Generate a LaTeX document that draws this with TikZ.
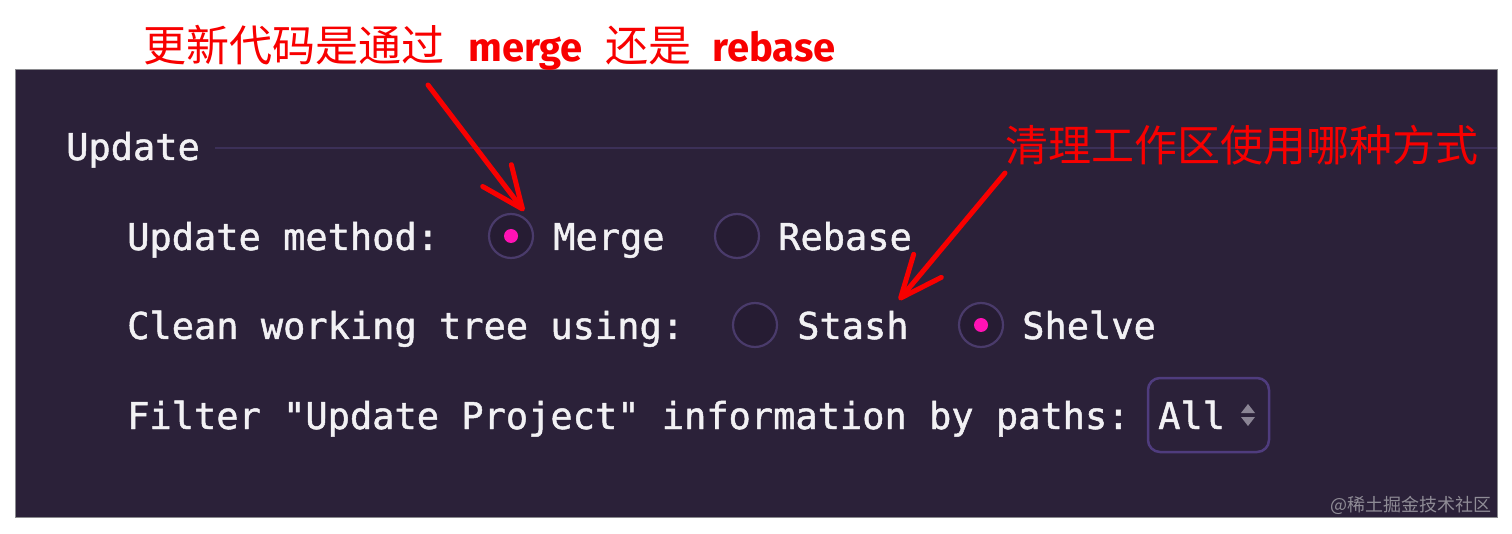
\documentclass[tikz,border=0pt]{standalone}
\usepackage{fontspec}
\newfontfamily\uifont{DejaVu Sans Mono}[FakeBold=1.3]
\newfontfamily\cjk{Noto Sans CJK SC}
\newfontfamily\hand{Fira Sans}
\usetikzlibrary{arrows.meta}

\definecolor{panelbg}{HTML}{2B2139}
\definecolor{paneledge}{HTML}{8A8A8E}
\definecolor{uitext}{HTML}{F2F1F4}
\definecolor{ruleline}{HTML}{3C3058}
\definecolor{radioedge}{HTML}{4A3B6B}
\definecolor{radiofill}{HTML}{261C33}
\definecolor{dotpink}{HTML}{FF12B4}
\definecolor{boxedge}{HTML}{4F3C7E}
\definecolor{spingray}{HTML}{8B8595}
\definecolor{wmgray}{HTML}{8F8C96}
\definecolor{annred}{HTML}{F80000}

\begin{document}
\begin{tikzpicture}[x=1pt,y=-1pt,
    ui/.style={anchor=base west, inner sep=0pt, text=uitext, font=\uifont\fontsize{37}{40}\selectfont},
    radio/.style={circle, draw=radioedge, fill=radiofill, line width=2.2pt, minimum size=44pt, inner sep=0pt},
    dot/.style={circle, fill=dotpink, minimum size=14pt, inner sep=0pt},
    note/.style={anchor=base west, inner sep=0pt, text=annred, font=\cjk\fontsize{43}{48}\selectfont},
    word/.style={anchor=base west, inner sep=0pt, text=annred, font=\hand\bfseries\fontsize{40}{44}\selectfont},
    pen/.style={draw=annred, line width=5pt, line cap=round, -{Straight Barb[length=42pt, width=36pt, round]}}]
    % page and panel
    \fill[white] (0,0) rectangle (1512,534);
    \draw[draw=paneledge, fill=panelbg, line width=1pt] (15,70) rectangle (1497,517);

    % section heading
    \node[ui] (hd) at (66,160) {Update};
    \draw[ruleline, line width=2pt] (215,148) -- (1497,148);

    % update method
    \node[ui] (um) at (127,250) {Update method:};
    \node[radio] (r1) at (511,236) {};
    \node[dot] (d1) at (r1.center) {};
    \node[ui] (merge) at (553,250) {Merge};
    \node[radio] (r2) at (737,236) {};
    \node[ui] (rebase) at (778,250) {Rebase};

    % clean working tree
    \node[ui] (cw) at (127,339) {Clean working tree using:};
    \node[radio] (r3) at (755,325) {};
    \node[ui] (stash) at (797,339) {Stash};
    \node[radio] (r4) at (981,325) {};
    \node[dot] (d4) at (r4.center) {};
    \node[ui] (shelve) at (1022,339) {Shelve};

    % filter
    \node[ui] (flt) at (127,429) {Filter "Update Project" information by paths:};
    \node[draw=boxedge, rounded corners=12pt, line width=2.5pt, minimum width=121pt, minimum height=74pt] (box) at (1208.5,415) {};
    \node[ui] (all) at (1158,429) {All};
    \fill[spingray] (1248,404) -- (1255,413) -- (1241,413) -- cycle;
    \fill[spingray] (1241,417) -- (1255,417) -- (1248,426) -- cycle;

    % watermark
    \node[anchor=base east, inner sep=0pt, text=wmgray, font=\cjk\fontsize{18}{20}\selectfont] (wm) at (1492,511) {@稀土掘金技术社区};

    % annotations
    \node[note] (n1) at (143,62) {更新代码是通过};
    \node[word] (w1) at (468,62) {merge};
    \node[note] (n2) at (605,62) {还是};
    \node[word] (w2) at (712,62) {rebase};
    \node[note] (n3) at (1005,162) {清理工作区使用哪种方式};

    \coordinate (a1s) at (428,85);
    \coordinate (a1e) at (524,211);
    \coordinate (a2s) at (1005,173);
    \coordinate (a2e) at (899,300);
    \draw[pen] (a1s) -- (a1e);
    \draw[pen] (a2s) -- (a2e);
\end{tikzpicture}
\end{document}
